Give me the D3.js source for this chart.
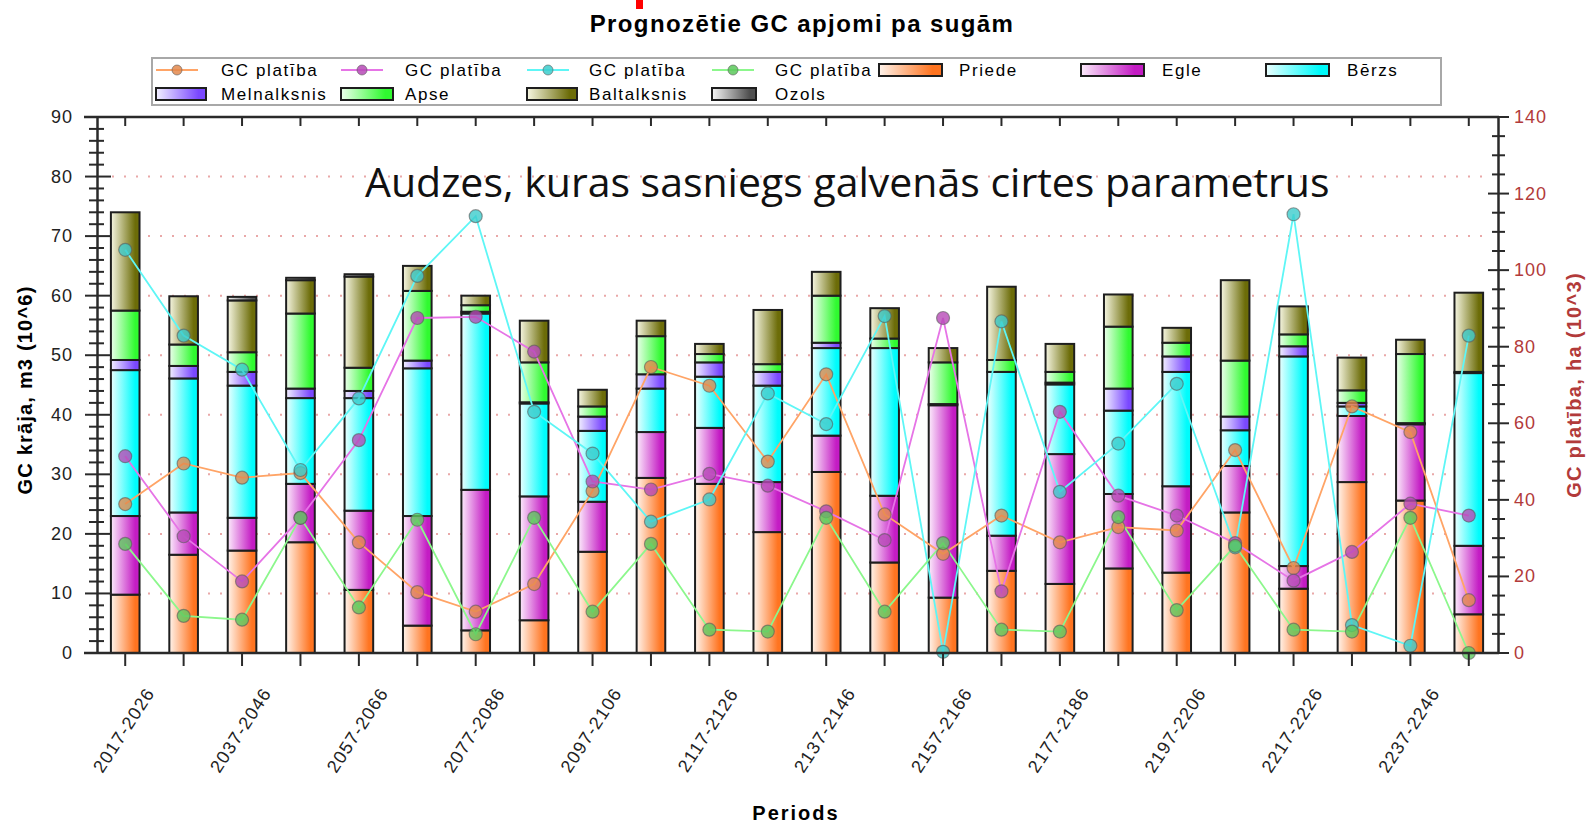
<!DOCTYPE html>
<html>
<head>
<meta charset="utf-8">
<script src="https://cdn.jsdelivr.net/npm/d3@7"></script>
<style>
  body { margin: 0; background: #fff; }
  svg { display: block; }
</style>
</head>
<body>
<svg id="chart" width="1588" height="823"></svg>
<script>
// periods on the x axis
var periods = ['2017-2026', '2027-2036', '2037-2046', '2047-2056', '2057-2066', '2067-2076',
    '2077-2086', '2087-2096', '2097-2106', '2107-2116', '2117-2126', '2127-2136',
    '2137-2146', '2147-2156', '2157-2166', '2167-2176', '2177-2186', '2187-2196',
    '2197-2206', '2207-2216', '2217-2226', '2227-2236', '2237-2246', '2247-2256'];

// GC kraja by species, m3 (10^6)
var priede      = [9.8, 16.5, 17.2, 18.6, 10.6, 4.6, 3.8, 5.5, 17.0, 29.4, 28.4, 20.3, 30.4, 15.2, 9.3, 13.8, 11.6, 14.2, 13.5, 23.6, 10.8, 28.7, 25.6, 6.5];
var egle        = [13.2, 7.1, 5.5, 9.8, 13.3, 18.4, 23.6, 20.8, 8.4, 7.7, 9.4, 8.4, 6.1, 11.2, 32.3, 5.9, 21.8, 12.5, 14.5, 7.8, 3.8, 11.1, 12.8, 11.5];
var berzs       = [24.5, 22.5, 22.2, 14.4, 18.9, 24.8, 29.6, 15.6, 11.9, 7.3, 8.6, 16.2, 14.7, 24.8, 0.2, 27.5, 11.7, 14.0, 19.2, 6.0, 35.2, 1.6, 0.2, 29.0];
var melnalksnis = [1.7, 2.1, 2.3, 1.6, 1.2, 1.3, 0.3, 0.2, 2.4, 2.4, 2.4, 2.3, 0.9, 0, 0, 0, 0.3, 3.7, 2.6, 2.3, 1.7, 0.6, 0, 0.2];
var apse        = [8.3, 3.6, 3.3, 12.6, 3.9, 11.7, 1.1, 6.7, 1.7, 6.4, 1.4, 1.3, 7.9, 1.6, 7.0, 2.0, 1.8, 10.4, 2.3, 9.4, 2.0, 2.1, 11.6, 0];
var baltalksnis = [16.5, 8.1, 8.7, 5.6, 15.3, 4.2, 1.6, 7.0, 2.8, 2.6, 1.7, 9.1, 4.0, 5.1, 2.4, 12.3, 4.7, 5.4, 2.5, 13.5, 4.7, 5.5, 2.4, 13.3];
var ozols       = [0, 0, 0.6, 0.4, 0.4, 0, 0, 0, 0, 0, 0, 0, 0, 0, 0, 0, 0, 0, 0, 0, 0, 0, 0, 0];

// GC platiba lines, ha (10^3)
var platibaOrange  = [38.9, 49.5, 45.8, 47.0, 28.9, 15.9, 10.8, 18.0, 42.3, 74.7, 69.8, 50.0, 72.8, 36.2, 25.9, 35.9, 28.9, 32.9, 32.0, 53.0, 22.2, 64.4, 57.7, 13.8];
var platibaMagenta = [51.4, 30.5, 18.7, 35.3, 55.6, 87.5, 87.8, 78.7, 44.8, 42.7, 46.8, 43.7, 37.0, 29.5, 87.5, 16.1, 63.0, 41.1, 35.9, 28.7, 18.9, 26.4, 39.0, 35.9];
var platibaCyan    = [105.3, 82.9, 74.0, 47.8, 66.5, 98.5, 114.1, 63.0, 52.1, 34.3, 40.1, 67.8, 59.8, 88.0, 0.3, 86.6, 42.1, 54.7, 70.3, 27.6, 114.6, 7.3, 1.9, 82.9];
var platibaGreen   = [28.5, 9.7, 8.7, 35.3, 11.9, 34.8, 4.9, 35.3, 10.8, 28.5, 6.1, 5.6, 35.3, 10.8, 28.7, 6.1, 5.6, 35.5, 11.2, 28.0, 6.1, 5.6, 35.3, 0];

var leftTicks = [0, 10, 20, 30, 40, 50, 60, 70, 80, 90];
var rightTicks = [0, 20, 40, 60, 80, 100, 120, 140];

var species = [
    {name: 'Priede', values: priede, light: '#fff4ec', dark: '#ff7420'},
    {name: 'Egle', values: egle, light: '#fcecfc', dark: '#c41cc4'},
    {name: 'Bērzs', values: berzs, light: '#ecffff', dark: '#00fcfc'},
    {name: 'Melnalksnis', values: melnalksnis, light: '#f2f0ff', dark: '#7a48ff'},
    {name: 'Apse', values: apse, light: '#ecffec', dark: '#30fa30'},
    {name: 'Baltalksnis', values: baltalksnis, light: '#f6f6e2', dark: '#6c6c08'},
    {name: 'Ozols', values: ozols, light: '#f6f6f6', dark: '#505050'}
];

var lines = [
    {values: platibaOrange, line: '#ffa466', dot: '#e3884c'},
    {values: platibaMagenta, line: '#e674e6', dot: '#b64ab6'},
    {values: platibaCyan, line: '#5ef6f6', dot: '#3ccccc'},
    {values: platibaGreen, line: '#8cf78c', dot: '#5cc85c'}
];

var svg = d3.select('#chart');
var font = '"Liberation Sans", Arial, sans-serif';
var axisRed = '#b23a3a';

// scales
var x = d3.scaleBand().domain(periods).range([96, 1498]).paddingInner(0.51).paddingOuter(0.255);
var yL = d3.scaleLinear().domain([0, 90]).range([653, 117]);
var yR = d3.scaleLinear().domain([0, 140]).range([653, 117]);
var cx = d => x(d) + x.bandwidth() / 2;

// gradients for bar fills
var defs = svg.append('defs');
species.forEach((s, i) => {
    var g = defs.append('linearGradient').attr('id', 'grad' + i)
        .attr('x1', 0).attr('x2', 1).attr('y1', 0).attr('y2', 0);
    g.append('stop').attr('offset', '0%').attr('stop-color', s.light);
    g.append('stop').attr('offset', '85%').attr('stop-color', s.dark);
    g.append('stop').attr('offset', '100%').attr('stop-color', s.dark);
});

// title + small red mark at top
svg.append('rect').attr('x', 636).attr('y', 0).attr('width', 7).attr('height', 9).attr('fill', '#ff0000');
svg.append('text')
    .attr('x', 802).attr('y', 32)
    .attr('text-anchor', 'middle')
    .style('font-family', font).style('font-weight', 'bold').style('font-size', '24px')
    .style('letter-spacing', '1.4px')
    .text('Prognozētie GC apjomi pa sugām');

// dotted grid
svg.append('g').selectAll('line')
    .data(leftTicks.filter(d => d > 0 && d < 90))
    .enter().append('line')
    .attr('x1', 112).attr('x2', 1488)
    .attr('y1', d => yL(d)).attr('y2', d => yL(d))
    .attr('stroke', '#e9a8a8')
    .attr('stroke-width', 2)
    .attr('stroke-dasharray', '2,10');

// stacked bars
var stacked = d3.stack().keys(d3.range(species.length))
    .value((d, k) => species[k].values[d])(d3.range(periods.length));

svg.append('g').selectAll('g')
    .data(stacked)
    .enter().append('g')
    .attr('fill', (d, i) => 'url(#grad' + i + ')')
    .selectAll('rect')
    .data(d => d.filter(p => p[1] - p[0] > 0))
    .enter().append('rect')
    .attr('x', d => x(periods[d.data]))
    .attr('width', x.bandwidth())
    .attr('y', d => yL(d[1]))
    .attr('height', d => yL(d[0]) - yL(d[1]))
    .attr('stroke', '#1e1e1e')
    .attr('stroke-width', 2);

// GC platiba lines with dots
var lineGen = d3.line().x((d, i) => cx(periods[i])).y(d => yR(d));
lines.forEach(l => {
    svg.append('path')
        .attr('d', lineGen(l.values))
        .attr('fill', 'none')
        .attr('stroke', l.line)
        .attr('stroke-width', 1.8);
});
lines.forEach(l => {
    svg.append('g').selectAll('circle')
        .data(l.values)
        .enter().append('circle')
        .attr('cx', (d, i) => cx(periods[i]))
        .attr('cy', d => yR(d))
        .attr('r', 6.5)
        .attr('fill', l.dot)
        .attr('fill-opacity', 0.8)
        .attr('stroke', '#5a5a5a')
        .attr('stroke-opacity', 0.6)
        .attr('stroke-width', 1.2);
});

// frame lines
var frame = svg.append('g').attr('stroke', '#2a2a2a').attr('stroke-width', 2.5);
frame.append('line').attr('x1', 84).attr('x2', 1499).attr('y1', 117).attr('y2', 117);
frame.append('line').attr('x1', 84).attr('x2', 1499).attr('y1', 653).attr('y2', 653);
frame.append('line').attr('x1', 97.5).attr('x2', 97.5).attr('y1', 117).attr('y2', 653);
frame.append('line').attr('x1', 1498.5).attr('x2', 1498.5).attr('y1', 117).attr('y2', 653);

// left axis ticks (major every 10, minor every 2)
var leftAxis = svg.append('g').attr('stroke', '#2a2a2a').attr('stroke-width', 2);
leftAxis.selectAll('line')
    .data(d3.range(0, 91, 2))
    .enter().append('line')
    .attr('x1', d => d % 10 == 0 ? 85 : 89)
    .attr('x2', d => d % 10 == 0 ? 111 : 104)
    .attr('y1', d => yL(d)).attr('y2', d => yL(d));
svg.append('g').selectAll('text')
    .data(leftTicks)
    .enter().append('text')
    .attr('x', 73).attr('y', d => yL(d) + 6)
    .attr('text-anchor', 'end')
    .style('font-family', font).style('font-size', '18px').style('letter-spacing', '1px')
    .attr('fill', '#222')
    .text(d => d);

// right axis ticks (major every 20, minor every 5)
var rightAxis = svg.append('g').attr('stroke', '#2a2a2a').attr('stroke-width', 2);
rightAxis.selectAll('line')
    .data(d3.range(0, 141, 5))
    .enter().append('line')
    .attr('x1', d => d % 20 == 0 ? 1488 : 1492)
    .attr('x2', d => d % 20 == 0 ? 1509 : 1505)
    .attr('y1', d => yR(d)).attr('y2', d => yR(d));
svg.append('g').selectAll('text')
    .data(rightTicks)
    .enter().append('text')
    .attr('x', 1514).attr('y', d => yR(d) + 6)
    .style('font-family', font).style('font-size', '18px').style('letter-spacing', '1px')
    .attr('fill', axisRed)
    .text(d => d);

// x ticks on top and bottom frame lines
var xTicks = svg.append('g').attr('stroke', '#2a2a2a').attr('stroke-width', 2);
xTicks.selectAll('.bt')
    .data(periods).enter().append('line')
    .attr('x1', d => cx(d)).attr('x2', d => cx(d))
    .attr('y1', 653).attr('y2', 666);
xTicks.selectAll('.tp')
    .data(periods).enter().append('line')
    .attr('x1', d => cx(d)).attr('x2', d => cx(d))
    .attr('y1', 117).attr('y2', 126);

// rotated period labels, every other period
svg.append('g').selectAll('text')
    .data(periods.filter((d, i) => i % 2 == 0))
    .enter().append('text')
    .attr('transform', d => `translate(${cx(d) - 1.5}, 730) rotate(-57)`)
    .attr('text-anchor', 'middle')
    .attr('dy', '0.35em')
    .style('font-family', font).style('font-size', '18px').style('letter-spacing', '1.2px')
    .attr('fill', '#222')
    .text(d => d);

// axis titles
svg.append('text')
    .attr('transform', 'translate(25, 390) rotate(-90)')
    .attr('text-anchor', 'middle').attr('dy', '0.35em')
    .style('font-family', font).style('font-weight', 'bold').style('font-size', '20px')
    .style('letter-spacing', '1.2px')
    .text('GC krāja, m3 (10^6)');
svg.append('text')
    .attr('transform', 'translate(1574, 385) rotate(-90)')
    .attr('text-anchor', 'middle').attr('dy', '0.35em')
    .style('font-family', font).style('font-weight', 'bold').style('font-size', '20px')
    .style('letter-spacing', '1.3px')
    .attr('fill', axisRed)
    .text('GC platība, ha (10^3)');
svg.append('text')
    .attr('x', 796).attr('y', 820)
    .attr('text-anchor', 'middle')
    .style('font-family', font).style('font-weight', 'bold').style('font-size', '20px')
    .style('letter-spacing', '2px')
    .text('Periods');

// annotation
svg.append('text')
    .attr('x', 365).attr('y', 197)
    .style('font-family', '"Open Sans", sans-serif').style('font-size', '41px')
    .attr('fill', '#111')
    .text('Audzes, kuras sasniegs galvenās cirtes parametrus');

// legend
var legend = svg.append('g');
legend.append('rect')
    .attr('x', 152).attr('y', 58).attr('width', 1289).attr('height', 47)
    .attr('fill', '#fff').attr('stroke', '#a8a8a8').attr('stroke-width', 2);

// legend slots: [symbol x, symbol width, text x, row]
var legendSlots = [
    [156, 42, 221, 0], [341, 42, 405, 0], [527, 42, 589, 0], [712, 42, 775, 0],
    [879, 63, 959, 0], [1081, 63, 1162, 0], [1266, 63, 1347, 0],
    [156, 50, 221, 1], [341, 52, 405, 1], [527, 50, 589, 1], [712, 44, 775, 1]
];
var rowY = [70, 94];

lines.forEach((l, i) => {
    var s = legendSlots[i], yy = rowY[s[3]];
    legend.append('line').attr('x1', s[0]).attr('x2', s[0] + s[1]).attr('y1', yy).attr('y2', yy)
        .attr('stroke', l.line).attr('stroke-width', 2);
    legend.append('circle').attr('cx', s[0] + s[1] / 2).attr('cy', yy).attr('r', 5)
        .attr('fill', l.dot).attr('fill-opacity', 0.85)
        .attr('stroke', '#5a5a5a').attr('stroke-opacity', 0.6);
    legend.append('text').attr('x', s[2]).attr('y', yy + 6)
        .style('font-family', font).style('font-size', '17px').style('letter-spacing', '1.6px')
        .text('GC platība');
});

species.forEach((sp, i) => {
    var s = legendSlots[i + 4], yy = rowY[s[3]];
    legend.append('rect').attr('x', s[0]).attr('y', yy - 6).attr('width', s[1]).attr('height', 12)
        .attr('fill', 'url(#grad' + i + ')').attr('stroke', '#1e1e1e').attr('stroke-width', 2);
    legend.append('text').attr('x', s[2]).attr('y', yy + 6)
        .style('font-family', font).style('font-size', '17px').style('letter-spacing', '1.6px')
        .text(sp.name);
});
</script>
</body>
</html>
